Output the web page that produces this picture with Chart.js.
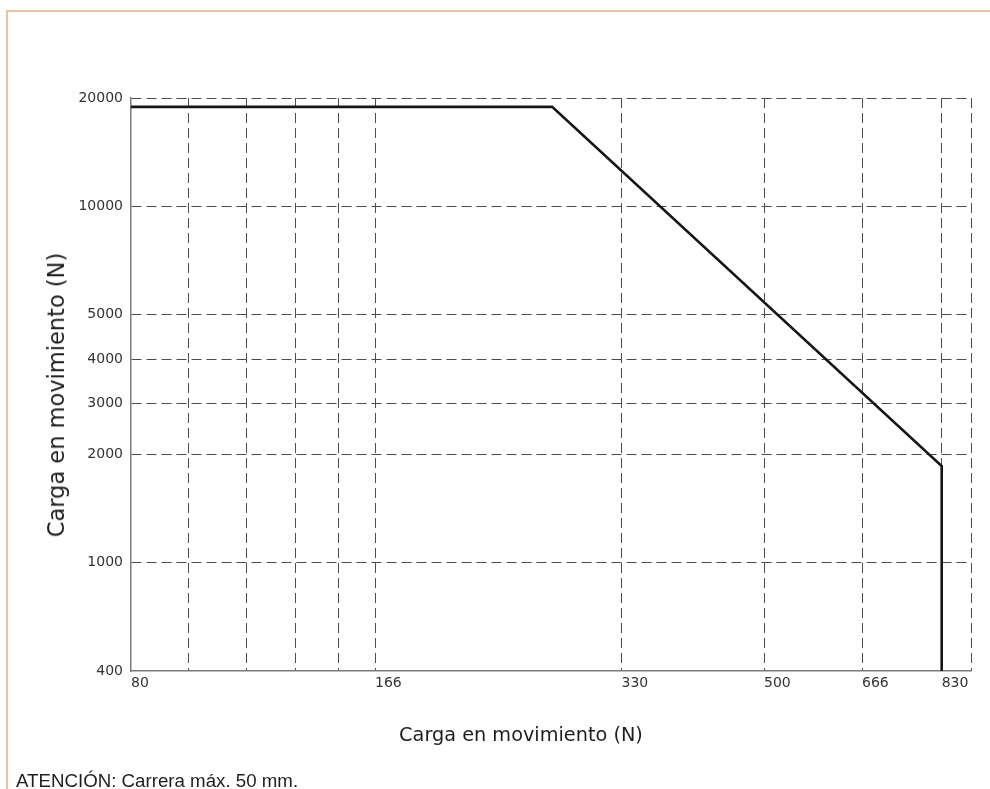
<!DOCTYPE html>
<html>
<head>
<meta charset="utf-8">
<script src="https://cdn.jsdelivr.net/npm/chart.js@4.4.1/dist/chart.umd.min.js"></script>
<style>
  html, body { margin: 0; padding: 0; background: #fff; }
  #wrap { position: relative; width: 990px; height: 789px; overflow: hidden; }
  #frame { position: absolute; left: 6px; top: 10px; right: 0; bottom: 0;
           border-top: 2px solid #ecc4a3; border-left: 2px solid #ecc4a3; }
  #chart { position: absolute; left: 0; top: 0; }
  .axis-title { position: absolute; font-family: "DejaVu Sans", sans-serif;
                color: #1e1e1e; white-space: nowrap; }
  #xTitle { left: 521px; top: 735px; font-size: 19.3px; line-height: 22px; transform: translate(-50%, -50%); }
  #yTitle { left: 56px; top: 395px; font-size: 22.5px; line-height: 26px; transform: translate(-50%, -50%) rotate(-90deg); }
  #note { position: absolute; left: 16px; top: 772px; font-family: "Liberation Sans", Arial, sans-serif;
          font-size: 18.7px; line-height: 18px; color: #1e1e1e; white-space: nowrap; }
</style>
</head>
<body>
<div id="wrap">
  <div id="frame"></div>
  <canvas id="chart" width="990" height="789"></canvas>
  <div class="axis-title" id="xTitle">Carga en movimiento (N)</div>
  <div class="axis-title" id="yTitle">Carga en movimiento (N)</div>
  <div id="note">ATENCIÓN: Carrera máx. 50 mm.</div>
</div>
<script>
// Load limit curve: flat plateau, sloped section, vertical cut-off
const loadX = [80, 272, 830, 830];
const loadY = [18900, 18900, 1850, 400];

// Grid lines and their labels
const xGridValues = [80, 95, 113, 131, 149, 166, 330, 500, 666, 830, 900];
const xGridLabels = ['80', '', '', '', '', '166', '330', '500', '666', '830', ''];
const yGridValues = [400, 1000, 2000, 3000, 4000, 5000, 10000, 20000];
const yGridLabels = ['400', '1000', '2000', '3000', '4000', '5000', '10000', '20000'];

// Axis whose spacing is logarithmic inside each segment between knots,
// with each knot placed at its own fraction of the axis length.
class KnotScale extends Chart.Scale {
  static id = 'knot';
  static defaults = {};

  determineDataLimits() {
    const k = this.options.knots;
    this.min = k[0];
    this.max = k[k.length - 1];
  }
  buildTicks() {
    return this.options.gridValues.map(v => ({ value: v }));
  }
  getLabelForValue(v) { return String(v); }
  _frac() {
    const p = this.options.knotPos;
    const total = p[p.length - 1];
    return p.map(v => v / total);
  }
  getPixelForValue(value) {
    const k = this.options.knots;
    const f = this._frac();
    let i = 0;
    while (i < k.length - 2 && value > k[i + 1]) i++;
    const t = (Math.log(value) - Math.log(k[i])) / (Math.log(k[i + 1]) - Math.log(k[i]));
    return this.getPixelForDecimal(f[i] + t * (f[i + 1] - f[i]));
  }
  getValueForPixel(pixel) {
    const k = this.options.knots;
    const f = this._frac();
    const d = this.getDecimalForPixel(pixel);
    let i = 0;
    while (i < f.length - 2 && d > f[i + 1]) i++;
    const t = (d - f[i]) / (f[i + 1] - f[i]);
    return Math.exp(Math.log(k[i]) + t * (Math.log(k[i + 1]) - Math.log(k[i])));
  }
}
Chart.register(KnotScale);

const tickFont = { family: 'DejaVu Sans', size: 14 };
// The first grid line sits on the solid axis line, so it is left out
const gridStyle = {
  color: ctx => ctx.index === 0 ? 'rgba(0,0,0,0)' : '#4d4d4d',
  lineWidth: 1,
  drawTicks: false
};
const borderStyle = { display: true, color: '#7a7a7a', width: 1.5, dash: [10, 5] };

new Chart(document.getElementById('chart'), {
  type: 'line',
  data: {
    datasets: [{
      data: loadX.map((x, i) => ({ x: x, y: loadY[i] })),
      borderColor: '#151515',
      borderWidth: 2.6,
      pointRadius: 0,
      fill: false,
      tension: 0
    }]
  },
  options: {
    responsive: false,
    animation: false,
    events: [],
    layout: { padding: { left: 0, top: 98, right: 19, bottom: 0 } },
    plugins: { legend: { display: false }, tooltip: { enabled: false } },
    scales: {
      x: {
        type: 'knot',
        position: 'bottom',
        knots: [80, 166, 330, 500, 666, 830, 900],
        knotPos: [0, 244, 490.5, 633, 731, 810.7, 840],
        gridValues: xGridValues,
        grid: gridStyle,
        border: borderStyle,
        ticks: {
          callback: (v, i) => xGridLabels[i],
          align: 'start', padding: 4, autoSkip: false, maxRotation: 0,
          font: tickFont, color: '#333'
        },
        afterFit: s => { s.height = 118; }
      },
      y: {
        type: 'knot',
        position: 'left',
        knots: [400, 1000, 2000, 3000, 4000, 5000, 10000, 20000],
        knotPos: [0, 109, 217, 268, 312, 357, 464.3, 573],
        gridValues: yGridValues,
        grid: gridStyle,
        border: borderStyle,
        ticks: {
          callback: (v, i) => yGridLabels[i],
          padding: 8, autoSkip: false,
          font: tickFont, color: '#333'
        },
        afterFit: s => { s.width = 131; }
      }
    }
  }
});
</script>
</body>
</html>
